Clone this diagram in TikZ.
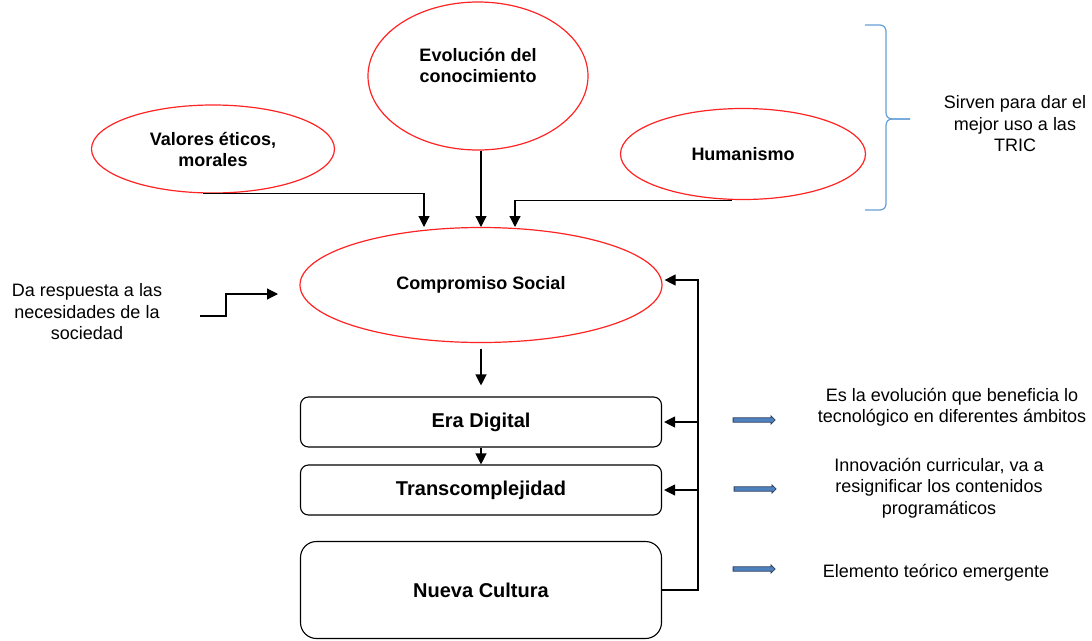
\documentclass[tikz,border=0pt]{standalone}
\usepackage{fontspec}
\setmainfont{Liberation Sans}
\usetikzlibrary{shapes.geometric,shapes.arrows,arrows.meta}

\definecolor{ovalred}{RGB}{255,35,35}
\definecolor{bracketblue}{RGB}{100,160,215}
\definecolor{arrowfill}{RGB}{79,129,189}
\definecolor{arrowline}{RGB}{45,65,95}

\tikzset{
  oval/.style={ellipse, draw=ovalred, line width=1.2pt, inner sep=0pt, align=center,
    font=\fontsize{18}{21}\selectfont\bfseries},
  stagebox/.style={rectangle, rounded corners=8pt, draw, line width=1.1pt,
    minimum width=361pt, minimum height=50pt, font=\fontsize{20}{23}\selectfont\bfseries},
  note/.style={align=center, font=\fontsize{18}{21.5}\selectfont},
  arr/.style={-{Triangle[length=11pt,width=11pt]}, line width=1.2pt},
  blockarrow/.style={single arrow, draw=arrowline, fill=arrowfill, line width=0.8pt,
    inner sep=1.8pt, minimum height=42pt, single arrow head extend=2pt,
    single arrow head indent=0pt}
}

\begin{document}
\begin{tikzpicture}[x=1pt,y=-1pt]
    \useasboundingbox (0,0) rectangle (1092,640);

    \node[oval, minimum width=220pt, minimum height=148pt, text depth=22pt] (evo) at (478,76) {Evolución del\\conocimiento};
    \node[oval, minimum width=243pt, minimum height=88pt]  (val) at (213,149) {Valores éticos,\\morales};
    \node[oval, minimum width=245pt, minimum height=91pt]  (hum) at (743,154) {Humanismo};
    \node[oval, minimum width=362pt, minimum height=115pt] (comp) at (481,285) {Compromiso Social};

    \node[stagebox] (era) at (481,422) {Era Digital};
    \node[stagebox] (tra) at (481,490) {Transcomplejidad};
    \node[stagebox, minimum height=97pt, rounded corners=16pt] (nue) at (481,590) {Nueva Cultura};

    \node[note] (sirven) at (1015,124) {Sirven para dar el\\mejor uso a las\\TRIC};
    \node[note] (da) at (87,312) {Da respuesta a las\\necesidades de la\\sociedad};
    \node[note] (t1) at (952,407) {Es la evolución que beneficia lo\\tecnológico en diferentes ámbitos};
    \node[note] (t2) at (939,488) {Innovación curricular, va a\\resignificar los contenidos\\programáticos};
    \node[note] (t3) at (936,573) {Elemento teórico emergente};

    \node[blockarrow] (b1) at (753,420) {};
    \node[blockarrow] (b2) at (754,489) {};
    \node[blockarrow] (b3) at (753,569) {};

    % brace
    \draw[bracketblue, line width=1.2pt, rounded corners=6pt] (865,25) -| (886,119) -- (910,119);
    \draw[bracketblue, line width=1.2pt, rounded corners=6pt] (910,119) -- (886,119) |- (865,210);

    \coordinate (vin) at (424,227);
    \coordinate (hin) at (515,227);
    \coordinate (fbr) at (698,590);
    \coordinate (dastart) at (200,316);
    \coordinate (dastep) at (226,316);
    \coordinate (daend) at (278,294);

    \draw[arr] ([xshift=-10pt]val.south) -| (vin);
    \draw[arr] (comp.north |- evo.south) -- (comp.north |- vin);
    \draw[arr] ([xshift=-11pt]hum.south) -| (hin);
    \draw[arr] (dastart) -- (dastep) |- (daend);

    \draw[arr] ([yshift=-5.5pt]comp.south) -- ([yshift=11pt]era.north);
    \draw[arr] (era.south) -- (tra.north);

    \draw[arr] (nue.east) -- (fbr) |- ([xshift=2pt,yshift=5pt]comp.east);
    \draw[arr] (fbr |- era.east) -- ([xshift=2pt]era.east);
    \draw[arr] (fbr |- tra.east) -- ([xshift=2pt]tra.east);

\end{tikzpicture}
\end{document}
